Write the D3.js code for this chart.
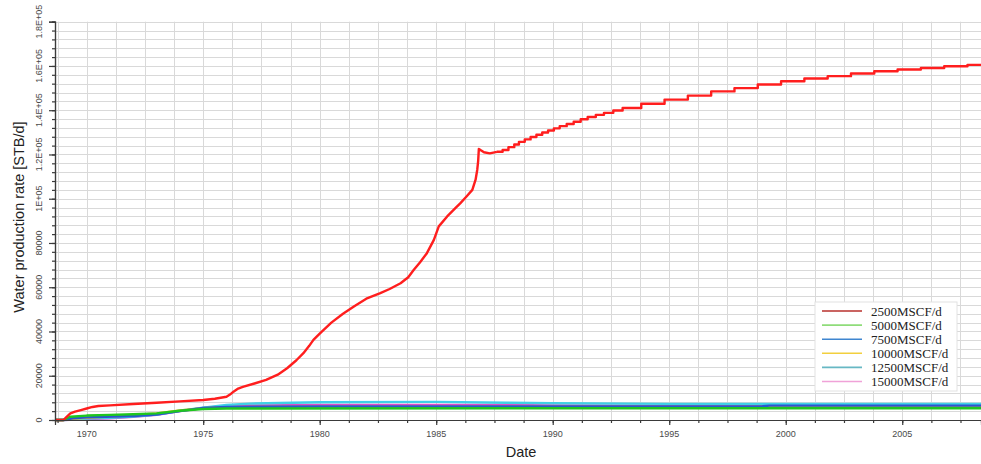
<!DOCTYPE html>
<html>
<head>
<meta charset="utf-8">
<script src="https://cdn.jsdelivr.net/npm/d3@7"></script>
<style>
  html, body { margin: 0; padding: 0; background: #fff; }
  svg { display: block; }
</style>
</head>
<body>
<svg id="chart" width="981" height="464"></svg>
<script>
// Water production rate by gas offtake case, [decimal year, STB/d]
const seriesNames = ["2500MSCF/d", "5000MSCF/d", "7500MSCF/d", "10000MSCF/d", "12500MSCF/d", "15000MSCF/d"];
const lineColors = ["#ff1e1e", "#1fc61f", "#2a56d0", "#f2b817", "#3fd0e6", "#e04ac8"];
const legendColors = ["#b8302c", "#8fdc7a", "#3f86d0", "#f2cf3e", "#67b8c4", "#f0a2d8"];

const rate2500 = [
  [1968.64, 0], [1969.0, 0], [1969.15, 1500], [1969.3, 3000], [1969.5, 3800], [1969.75, 4500],
  [1970.0, 5200], [1970.25, 5900], [1970.5, 6300], [1971.0, 6600], [1972.0, 7200], [1973.0, 7800],
  [1974.0, 8400], [1975.0, 9050], [1975.5, 9600], [1976.0, 10500], [1976.15, 11500], [1976.3, 12800],
  [1976.5, 14200], [1976.7, 15000], [1977.2, 16500], [1977.7, 18100], [1978.2, 20500], [1978.6, 23400],
  [1979.0, 27000], [1979.3, 30200], [1979.55, 33500], [1979.73, 36200], [1980.0, 39000], [1980.5, 44000],
  [1981.0, 48000], [1981.5, 51500], [1982.0, 54800], [1982.6, 57300], [1983.0, 59200], [1983.47, 61800],
  [1983.8, 64500], [1984.04, 67900], [1984.3, 71200], [1984.6, 75400], [1984.9, 81400], [1985.11, 87500],
  [1985.47, 92000], [1985.8, 95500], [1986.04, 98000], [1986.3, 101000], [1986.55, 104000], [1986.69, 108600],
  [1986.76, 113000], [1986.8, 117000], [1986.83, 122500], [1986.9, 122000], [1987.05, 121000], [1987.3, 120500],
  [1987.6, 121200], [1987.85, 122000], [1988.1, 123300], [1988.35, 124500], [1988.55, 125700], [1988.8, 126800],
  [1989.05, 127900], [1989.3, 128900], [1989.55, 129900], [1989.8, 130800], [1990.05, 131800], [1990.3, 132800],
  [1990.6, 133800], [1990.9, 134800], [1991.2, 135900], [1991.5, 136900], [1991.85, 137900], [1992.2, 138800],
  [1992.6, 139900], [1993.0, 141000], [1993.8, 142900], [1994.8, 144800], [1995.8, 146600], [1996.8, 148500],
  [1997.8, 150000], [1998.8, 151600], [1999.8, 153100], [2000.8, 154300], [2001.8, 155400], [2002.8, 156600],
  [2003.8, 157600], [2004.8, 158400], [2005.8, 159100], [2006.8, 159900], [2007.8, 160500], [2008.38, 160500]
];
const rate5000 = [
  [1968.64, 0], [1969.0, 0], [1969.3, 1500], [1970.0, 2000], [1971.0, 2300], [1972.0, 2600],
  [1973.0, 3000], [1974.0, 4200], [1975.0, 5000], [1976.0, 5200], [1990.0, 5300], [2008.38, 5300]
];
const rate7500 = [
  [1968.64, 0], [1969.0, 0], [1969.4, 800], [1970.0, 1200], [1972.0, 1800], [1973.0, 2500],
  [1974.0, 4000], [1975.0, 5400], [1976.0, 5900], [1980.0, 6100], [1999.0, 6200], [1999.3, 6500], [2008.38, 6500]
];
const rate10000 = [
  [1968.64, 0], [1969.0, 0], [1969.5, 600], [1970.0, 1000], [1971.0, 1600], [1972.0, 2200],
  [1973.0, 3000], [1974.0, 4300], [1975.0, 5300], [1976.0, 5800], [1980.0, 6000], [2008.38, 6000]
];
const rate12500 = [
  [1968.64, 0], [1969.0, 0], [1969.6, 300], [1970.0, 600], [1971.0, 1000], [1972.0, 1600],
  [1973.0, 2500], [1974.0, 4200], [1975.0, 5600], [1976.0, 6800], [1977.0, 7400], [1980.0, 8000],
  [1985.0, 8200], [1988.0, 7800], [1990.0, 7600], [1995.0, 7300], [2008.38, 7200]
];
const rate15000 = [
  [1968.64, 0], [1969.0, 0], [1969.6, 200], [1970.0, 400], [1971.0, 800], [1972.0, 1400],
  [1973.0, 2300], [1974.0, 4000], [1975.0, 5500], [1976.0, 6300], [1977.0, 6600], [1980.0, 6800],
  [1988.0, 6800], [1990.0, 6600], [1995.0, 6400], [2008.38, 6200]
];
const seriesValues = [rate2500, rate5000, rate7500, rate10000, rate12500, rate15000];

// after this date the report steps are coarse enough to show as stairs
const stepStart = 1987.6;

const xTickYears = [1970, 1975, 1980, 1985, 1990, 1995, 2000, 2005];
const yTickValues = [0, 20000, 40000, 60000, 80000, 100000, 120000, 140000, 160000, 180000];
const yTickLabels = ["0", "20000", "40000", "60000", "80000", "1E+05", "1.2E+05", "1.4E+05", "1.6E+05", "1.8E+05"];

const svg = d3.select("#chart");
const plotLeft = 55, plotRight = 981, plotTop = 21.7, plotBottom = 420;

const x = d3.scaleLinear().domain([1968.64, 2008.38]).range([plotLeft, plotRight]);
const y = d3.scaleLinear().domain([0, 180000]).range([plotBottom, plotTop]);

const minorYears = d3.range(1968.75, 2008.38, 1.25);
const minorRates = d3.range(0, 180001, 4000);

// grid
const grid = svg.append("g").attr("stroke", "#d9d9d9").attr("stroke-width", 1);
grid.selectAll("line.h").data(minorRates.filter(v => v > 0)).join("line")
  .attr("class", "h")
  .attr("x1", plotLeft).attr("x2", plotRight)
  .attr("y1", d => Math.round(y(d)) + 0.5).attr("y2", d => Math.round(y(d)) + 0.5);
grid.selectAll("line.v").data(minorYears.filter(v => x(v) > plotLeft + 1)).join("line")
  .attr("class", "v")
  .attr("y1", plotTop).attr("y2", plotBottom)
  .attr("x1", d => Math.round(x(d)) + 0.5).attr("x2", d => Math.round(x(d)) + 0.5);

// series
const line = d3.line().x(d => x(d[0])).y(d => y(d[1]));
const plot = svg.append("g");
[5, 4, 3, 2, 1].forEach(i => {
  plot.append("path")
    .attr("d", line.curve(d3.curveLinear)(seriesValues[i]))
    .attr("fill", "none").attr("stroke", lineColors[i]).attr("stroke-width", 2.4)
    .attr("stroke-linejoin", "round");
});
const redSmooth = rate2500.filter(d => d[0] <= stepStart);
const redSteps = rate2500.filter(d => d[0] >= stepStart);
plot.append("path")
  .attr("d", line.curve(d3.curveLinear)(redSmooth) + line.curve(d3.curveStepAfter)(redSteps))
  .attr("fill", "none").attr("stroke", lineColors[0]).attr("stroke-width", 2.4)
  .attr("stroke-linejoin", "round");

// axes
const axisColor = "#3a3a3a";
const yAxis = svg.append("g").attr("transform", `translate(${plotLeft},0)`)
  .call(d3.axisLeft(y).tickValues(yTickValues).tickSize(6).tickFormat(""));
const yMinor = svg.append("g").attr("transform", `translate(${plotLeft},0)`)
  .call(d3.axisLeft(y).tickValues(minorRates).tickSize(3).tickFormat(""));
const xAxis = svg.append("g").attr("transform", `translate(0,${plotBottom})`)
  .call(d3.axisBottom(x).tickValues(xTickYears).tickSize(5).tickFormat(""));
const xMinor = svg.append("g").attr("transform", `translate(0,${plotBottom})`)
  .call(d3.axisBottom(x).tickValues(minorYears).tickSize(3).tickFormat(""));
[yAxis, yMinor, xAxis, xMinor].forEach(g => {
  g.selectAll("path, line").attr("stroke", axisColor).attr("stroke-width", 1.2);
});

svg.append("g").selectAll("text").data(yTickValues).join("text")
  .attr("transform", d => `translate(42,${y(d)}) rotate(-90)`)
  .attr("text-anchor", "middle")
  .attr("font-family", "Liberation Sans, Arial, sans-serif")
  .attr("font-size", 9).attr("fill", "#4a4a4a")
  .text((d, i) => yTickLabels[i]);

svg.append("g").selectAll("text").data(xTickYears).join("text")
  .attr("x", d => x(d)).attr("y", 437)
  .attr("text-anchor", "middle")
  .attr("font-family", "Liberation Sans, Arial, sans-serif")
  .attr("font-size", 9).attr("fill", "#4a4a4a")
  .text(d => d);

// axis titles
svg.append("text")
  .attr("transform", "translate(24,217) rotate(-90)")
  .attr("text-anchor", "middle")
  .attr("font-family", "Liberation Sans, Arial, sans-serif")
  .attr("font-size", 14.5).attr("fill", "#222")
  .text("Water production rate [STB/d]");
svg.append("text")
  .attr("x", 521).attr("y", 457)
  .attr("text-anchor", "middle")
  .attr("font-family", "Liberation Sans, Arial, sans-serif")
  .attr("font-size", 14.5).attr("fill", "#222")
  .text("Date");

// legend
const legend = svg.append("g").attr("transform", "translate(815,302)");
legend.append("rect").attr("width", 142).attr("height", 89)
  .attr("fill", "#fff").attr("stroke", "#e2e2e2");
const rows = legend.selectAll("g").data(seriesNames).join("g")
  .attr("transform", (d, i) => `translate(0,${9 + i * 14.1})`);
rows.append("line").attr("x1", 7).attr("x2", 47)
  .attr("stroke", (d, i) => legendColors[i]).attr("stroke-width", 1.6);
rows.append("text").attr("x", 56).attr("y", 4.5)
  .attr("font-family", "Liberation Serif, Times New Roman, serif")
  .attr("font-size", 13).attr("fill", "#222")
  .text(d => d);
</script>
</body>
</html>
